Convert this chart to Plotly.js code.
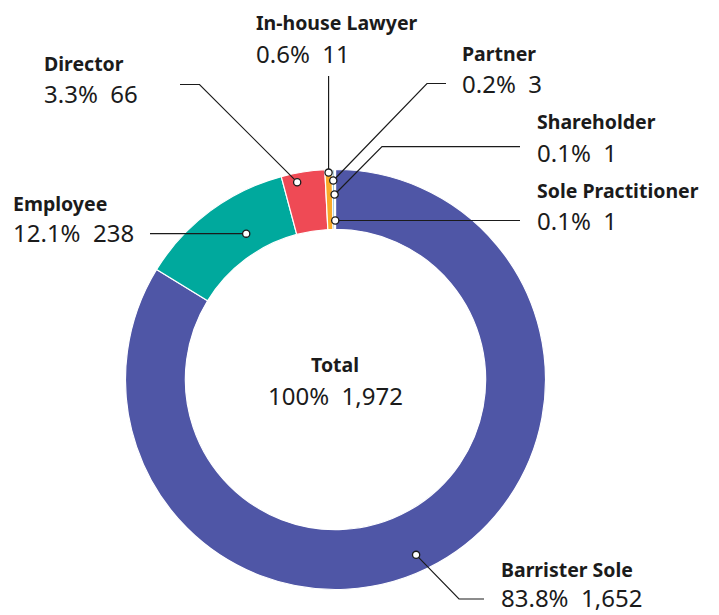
<!DOCTYPE html>
<html>
<head>
<meta charset="utf-8">
<script src="https://cdn.plot.ly/plotly-3.0.1.min.js"></script>
<style>html,body{margin:0;padding:0;background:#fff;}#chart{width:719px;height:615px;}</style>
</head>
<body>
<div id="chart"></div>
<script>
// ---- data ----
const categories = ["Barrister Sole", "Employee", "Director", "In-house Lawyer", "Partner", "Shareholder", "Sole Practitioner"];
const counts = [1652, 238, 66, 11, 3, 1, 1];
const totalLabel = "Total";

// ---- style / layout ----
const colors = ["#4f56a6", "#00a99d", "#ef4a55", "#f9a928", "#1c7b9c", "#d6e8ef", "#eeeeee"];
const W = 719, H = 615;
const CX = 335.5, CY = 379.5, R = 210, HOLE = 0.715;
const textColor = "#1b1b1b";
const FONT = "Noto Sans, sans-serif";

// callout layout per category (pixel layout, not data)
const callouts = {
  "Barrister Sole":   {frac: 0.515, r: 193, pts: [[484, 599], [459, 599]], tx: 499, ty: [569.5, 597]},
  "Employee":         {frac: 0.62, r: 171, pts: [[150, 0]], horiz: true, tx: 11, ty: [203.5, 232.5]},
  "Director":         {frac: 0.33, r: 201, pts: [[180, 84.5], [199.5, 84.5]], tx: 42, ty: [64, 94]},
  "In-house Lawyer":  {frac: 0.5, r: 207, pts: [[0, 76]], vert: true, tx: 254, ty: [22.5, 53.5]},
  "Partner":          {frac: 0.5, r: 199, pts: [[446, 83.5], [427, 83.5]], tx: 460, ty: [53, 83]},
  "Shareholder":      {frac: 0.5, r: 185, pts: [[520, 146.7], [382, 146.7]], tx: 535, ty: [121.5, 152]},
  "Sole Practitioner":{frac: 0.5, r: 159, pts: [[520, 0]], horiz: true, tx: 535, ty: [190, 220.5]}
};

const total = counts.reduce((a, b) => a + b, 0);
const fmt = n => n.toLocaleString("en-US");
const pct = v => (v / total * 100).toFixed(1) + "%";

const px = x => x / W;
const py = y => 1 - y / H;

const shapes = [];
const annotations = [];
let cum = 0;
categories.forEach((cat, i) => {
  const c = callouts[cat];
  const a0 = cum / total * 360;
  cum += counts[i];
  const a1 = cum / total * 360;
  const ang = (a0 + (a1 - a0) * c.frac) * Math.PI / 180; // clockwise from top
  const mx = CX + c.r * Math.sin(ang);
  const my = CY - c.r * Math.cos(ang);
  const pts = c.pts.map(p => {
    let x = p[0], y = p[1];
    if (c.horiz) y = my;
    if (c.vert) x = mx;
    return [x, y];
  });
  pts.push([mx, my]);
  const path = pts.map((p, k) => (k ? "L" : "M") + px(p[0]).toFixed(5) + "," + py(p[1]).toFixed(5)).join(" ");
  shapes.push({type: "path", xref: "paper", yref: "paper", path: path, line: {color: textColor, width: 1.2}});
  const rr = 3.6;
  shapes.push({type: "circle", xref: "paper", yref: "paper",
    x0: px(mx - rr), x1: px(mx + rr), y0: py(my + rr), y1: py(my - rr),
    fillcolor: "#ffffff", line: {color: textColor, width: 1.3}});
  annotations.push({xref: "paper", yref: "paper", x: px(c.tx), y: py(c.ty[0]), xanchor: "left", yanchor: "middle",
    showarrow: false, text: "<b>" + cat + "</b>", font: {family: FONT, size: 19.5, color: textColor}});
  annotations.push({xref: "paper", yref: "paper", x: px(c.tx), y: py(c.ty[1]), xanchor: "left", yanchor: "middle",
    showarrow: false, text: pct(counts[i]) + "\u00a0 " + fmt(counts[i]), font: {family: FONT, size: 24, color: textColor}});
});

// centre total
annotations.push({xref: "paper", yref: "paper", x: px(335), y: py(364), xanchor: "center", yanchor: "middle",
  showarrow: false, text: "<b>" + totalLabel + "</b>", font: {family: FONT, size: 19.5, color: textColor}});
annotations.push({xref: "paper", yref: "paper", x: px(335), y: py(395), xanchor: "center", yanchor: "middle",
  showarrow: false, text: "100%\u00a0 " + fmt(total), font: {family: FONT, size: 24, color: textColor}});

const trace = {
  type: "pie",
  labels: categories,
  values: counts,
  sort: false,
  direction: "clockwise",
  rotation: 0,
  hole: HOLE,
  textinfo: "none",
  hoverinfo: "label+value+percent",
  marker: {colors: colors, line: {color: "#ffffff", width: 1.2}},
  domain: {x: [px(CX - R), px(CX + R)], y: [py(CY + R), py(CY - R)]},
  showlegend: false
};

const layout = {
  width: W, height: H,
  margin: {l: 0, r: 0, t: 0, b: 0},
  paper_bgcolor: "#ffffff",
  plot_bgcolor: "#ffffff",
  showlegend: false,
  shapes: shapes,
  annotations: annotations
};

Plotly.newPlot("chart", [trace], layout, {displayModeBar: false, staticPlot: true});
</script>
</body>
</html>
